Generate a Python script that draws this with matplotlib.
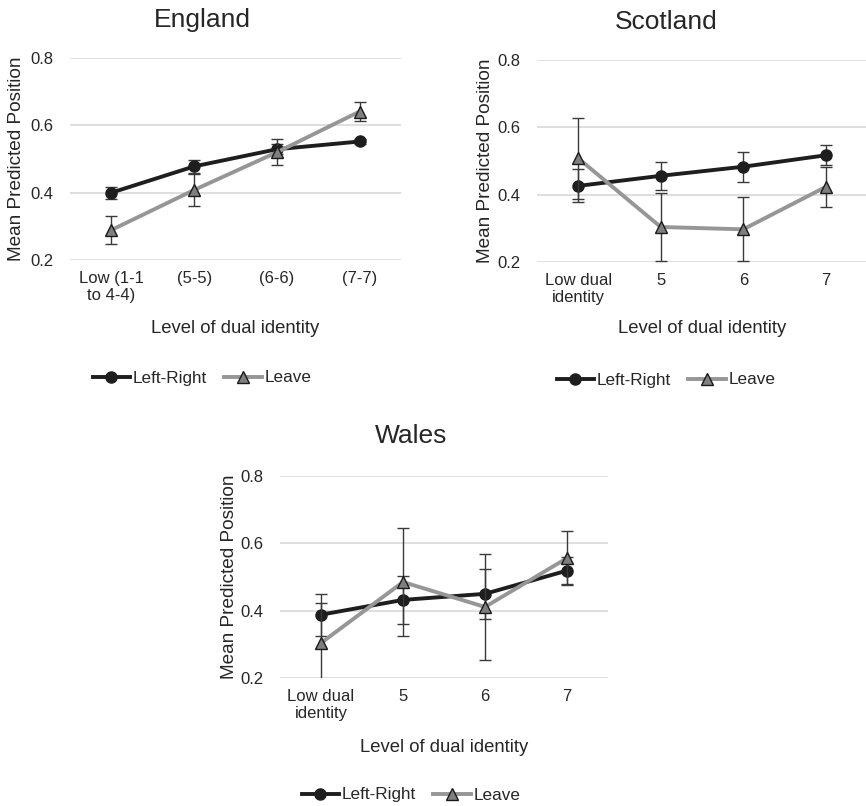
import matplotlib
matplotlib.use("Agg")
import matplotlib.pyplot as plt
from matplotlib.lines import Line2D

plt.rcParams['font.family'] = ['Liberation Sans', 'DejaVu Sans']

# Category labels
england_cats = ["Low (1-1\nto 4-4)", "(5-5)", "(6-6)", "(7-7)"]
dual_cats = ["Low dual\nidentity", "5", "6", "7"]

# Mean predicted positions and error half-widths
england_lr = [0.400, 0.478, 0.529, 0.552]
england_lr_err = [0.018, 0.019, 0.015, 0.008]
england_leave = [0.289, 0.408, 0.520, 0.641]
england_leave_err = [0.042, 0.047, 0.038, 0.027]

scotland_lr = [0.426, 0.456, 0.483, 0.517]
scotland_lr_err = [0.049, 0.041, 0.045, 0.030]
scotland_leave = [0.508, 0.304, 0.297, 0.423]
scotland_leave_err = [0.120, 0.100, 0.095, 0.060]

wales_lr = [0.388, 0.432, 0.450, 0.519]
wales_lr_err = [0.062, 0.072, 0.075, 0.040]
wales_leave = [0.304, 0.485, 0.411, 0.556]
wales_leave_err = [0.120, 0.160, 0.157, 0.080]

y_ticks = [0.2, 0.4, 0.6, 0.8]

W, H = 866, 806
fig = plt.figure(figsize=(W / 100, H / 100), dpi=100)

TXT = "#262626"
LR_COL = "#1e1e1e"
LV_COL = "#969696"
ERR_COL = "#3a3a3a"


def px_axes(x0, y0, x1, y1):
    return fig.add_axes([x0 / W, 1 - y1 / H, (x1 - x0) / W, (y1 - y0) / H])


def panel(box, title, cats, lr, lr_err, lv, lv_err, center_x, title_y, ylab_x, xlab_y, leg_y):
    ax = px_axes(*box)
    x = list(range(len(cats)))
    ax.set_xlim(-0.5, len(cats) - 0.5)
    ax.set_ylim(0.2, 0.8)
    ax.set_yticks(y_ticks)
    ax.set_yticklabels([f"{v:.1f}" for v in y_ticks])
    ax.set_xticks(x)
    ax.set_xticklabels(cats, linespacing=1.15)
    ax.grid(axis="y", color="#d9d9d9", lw=1.2)
    ax.set_axisbelow(True)
    for s in ax.spines.values():
        s.set_visible(False)
    ax.tick_params(axis="both", length=0, labelsize=12, colors=TXT)
    ax.tick_params(axis="y", pad=12)
    ax.tick_params(axis="x", pad=8)

    ax.errorbar(x, lr, yerr=lr_err, fmt="none", ecolor=ERR_COL, elinewidth=1,
                capsize=4, capthick=1, zorder=3)
    ax.plot(x, lr, color=LR_COL, lw=2.8, marker="o", ms=8, mfc=LR_COL,
            mec=LR_COL, zorder=4, clip_on=False)
    ax.errorbar(x, lv, yerr=lv_err, fmt="none", ecolor=ERR_COL, elinewidth=1,
                capsize=4, capthick=1, zorder=5)
    ax.plot(x, lv, color=LV_COL, lw=2.8, marker="^", ms=9, mfc="#7f7f7f",
            mec="#1a1a1a", mew=1.0, zorder=6, clip_on=False)

    fig.text(center_x / W, 1 - title_y / H, title, ha="center", va="center",
             fontsize=19, color=TXT)
    fig.text(ylab_x / W, 1 - ((box[1] + box[3]) / 2) / H, "Mean Predicted Position",
             rotation=90, ha="center", va="center", fontsize=13.7, color=TXT)
    fig.text(((box[0] + box[2]) / 2) / W, 1 - xlab_y / H, "Level of dual identity",
             ha="center", va="center", fontsize=13.3, color=TXT)

    handles = [
        Line2D([], [], color=LR_COL, lw=2.8, marker="o", ms=8, mfc=LR_COL, mec=LR_COL),
        Line2D([], [], color=LV_COL, lw=2.8, marker="^", ms=8, mfc="#7f7f7f",
               mec="#1a1a1a", mew=1.0),
    ]
    fig.legend(handles, ["Left-Right", "Leave"], loc="center",
               bbox_to_anchor=(center_x / W, 1 - leg_y / H), ncol=2, frameon=False,
               fontsize=12.3, handlelength=2.2, handletextpad=0.15, columnspacing=1.0,
               labelcolor=TXT, borderpad=0, borderaxespad=0)
    return ax


panel((70, 58, 401, 260), "England", england_cats, england_lr, england_lr_err,
      england_leave, england_leave_err, 202, 20, 17, 328, 378)
panel((537, 60, 867, 262), "Scotland", dual_cats, scotland_lr, scotland_lr_err,
      scotland_leave, scotland_leave_err, 666, 22, 485, 328, 380)
panel((280, 476, 608, 678), "Wales", dual_cats, wales_lr, wales_lr_err,
      wales_leave, wales_leave_err, 411, 436, 229, 747, 795)

fig.savefig("out.png", dpi=100)
